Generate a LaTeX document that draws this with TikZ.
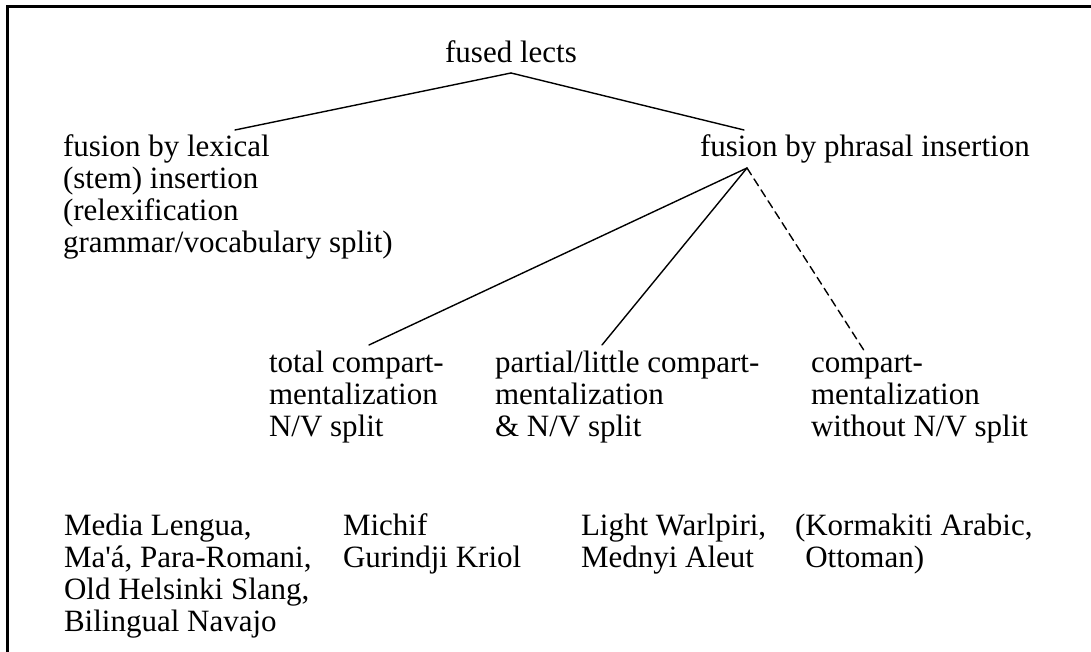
\documentclass[tikz,border=0pt]{standalone}
\usepackage{fontspec}
\setmainfont{Liberation Serif}
\newfontfamily\nolig{Liberation Serif}[Ligatures=TeXOff]
\newcommand{\mlines}[1]{\begin{tabular}[t]{@{}l@{}}#1\end{tabular}}
\tikzset{
  lbl/.style={inner sep=0pt, outer sep=0pt, anchor=base west, font=\fontsize{31}{32}\selectfont},
  edge/.style={line width=1.4pt, line cap=round},
  dashededge/.style={edge, dash pattern=on 8pt off 5pt},
  frame/.style={line width=3pt, line join=miter}
}
\begin{document}
\begin{tikzpicture}[x=1pt,y=1pt]
\useasboundingbox (0,0) rectangle (1091,652);
\draw[frame] (1091,645) -- (7,645) -- (7,0);
% level 0
\node[lbl, anchor=base] (fused) at (511,589) {fused lects};
% level 1
\node[lbl] (lex) at (63,495) {\mlines{fusion by lexical\\(stem) insertion\\(relexification\\grammar/vocabulary split)}};
\node[lbl] (phr) at (700,495) {fusion by phrasal insertion};
% level 2
\node[lbl] (total) at (269,279) {\mlines{total compart-\\mentalization\\N/V split}};
\node[lbl] (partial) at (495,279) {\mlines{partial/little compart-\\mentalization\\\& N/V split}};
\node[lbl] (without) at (811,279) {\mlines{compart-\\mentalization\\without N/V split}};
% examples
\node[lbl] (ex1) at (64,116) {\mlines{Media Lengua,\\Ma{\nolig '}á, Para-Romani,\\Old Helsinki Slang,\\Bilingual Navajo}};
\node[lbl] (ex2) at (343,116) {\mlines{Michif\\Gurindji Kriol}};
\node[lbl] (ex3) at (581,116) {\mlines{Light Warlpiri,\\Mednyi Aleut}};
\node[lbl] (ex4) at (795,116) {\mlines{(Kormakiti Arabic,\\\hphantom{(}Ottoman)}};
% connectors
\draw[edge] ([yshift=-10pt]fused.base) -- ([shift={(172pt,27pt)}]lex.base west);
\draw[edge] ([yshift=-10pt]fused.base) -- ([shift={(44pt,27pt)}]phr.base west);
\draw[edge] ([shift={(47pt,-11pt)}]phr.base west) -- ([shift={(100pt,28pt)}]total.base west);
\draw[edge] ([shift={(47pt,-11pt)}]phr.base west) -- ([shift={(107pt,28pt)}]partial.base west);
\draw[dashededge] ([shift={(47pt,-11pt)}]phr.base west) -- ([shift={(54pt,21pt)}]without.base west);
\end{tikzpicture}
\end{document}
